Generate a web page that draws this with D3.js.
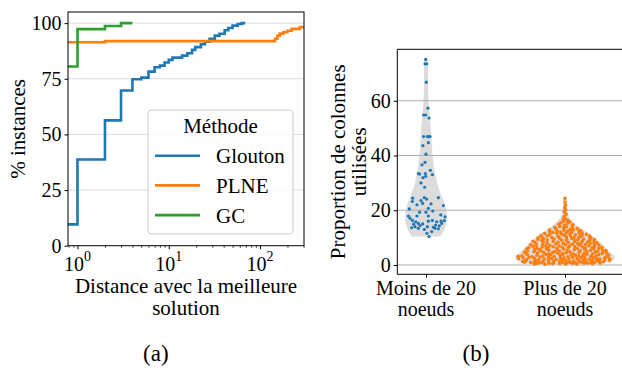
<!DOCTYPE html>
<html>
<head>
<meta charset="utf-8">
<script src="https://cdn.jsdelivr.net/npm/d3@7"></script>
<style>
  body { margin: 0; background: #fff; }
  svg { display: block; }
  svg text { font-family: "Liberation Serif", "Times New Roman", serif; }
</style>
</head>
<body>
<svg id="chart" width="622" height="370"></svg>
<script>
// (a) cumulative % of instances vs distance to best solution
const methods = ['Glouton', 'PLNE', 'GC'];
const methodColors = ['#1f77b4', '#ff7f0e', '#2ca02c'];
const gloutonSteps = [[0.5, 9.6], [1, 38.7], [2, 56.3], [3, 69.7], [4, 74.8], [5, 75.5], [6, 78.2], [7, 80.2], [8, 80.9],
  [9, 82.3], [10, 83.5], [11, 84.5], [14, 85.4], [16, 86.5], [18, 88.0], [19.5, 89.2], [22.5, 90.5], [25, 91.7],
  [28, 93.0], [32, 94.4], [36, 95.2], [41, 96.8], [45, 97.8], [50, 98.9], [57, 99.6], [63, 100], [69, 100]];
const plneSteps = [[0.5, 91.4], [2, 91.9], [146, 93.0], [155, 94.3], [165, 95.3], [180, 95.9], [200, 96.6],
  [222, 97.4], [272, 98.2], [400, 98.2]];
const gcSteps = [[0.5, 80.5], [1, 97.3], [2, 98.7], [3, 100], [4, 100]];
const ecdfYTicks = [0, 25, 50, 75, 100];
const ecdfXTicks = [1, 10, 100];

// (b) proportion of columns used
const groupLabels = [['Moins de 20', 'noeuds'], ['Plus de 20', 'noeuds']];
const groupColors = ['#1f77b4', '#ff7f0e'];
const violinYTicks = [0, 20, 40, 60];
// [value, jitter in category units]
const smallPoints = [[75.1, -0.002], [73.5, -0.007], [73.5, 0.005], [66.8, 0.002], [57.3, 0.014], [54.8, -0.017],
  [54.8, -0.002], [53.7, 0.022], [46.9, -0.017], [46.9, 0.010], [46.9, 0.019], [46.9, 0.029], [44.7, 0.017],
  [43.6, -0.022], [40.5, 0], [37.5, -0.007], [36.6, -0.029], [34.6, 0.031], [33.4, -0.055], [33.2, -0.046],
  [33.4, -0.005], [32.4, -0.002], [31.9, -0.022], [33.0, 0.046], [30.0, -0.036], [28.4, -0.010],
  [24.4, -0.096], [23.2, -0.098], [23.5, -0.036], [24.6, -0.012], [24.1, 0.005], [24.6, 0.089], [22.0, -0.065],
  [22.5, -0.024], [22.3, 0.036], [21.7, 0.125], [20.5, -0.120], [20.7, 0.017], [19.7, 0.048], [19.3, -0.046],
  [19.3, 0], [17.9, -0.127], [17.1, -0.115], [17.9, -0.065], [17.9, 0.017], [18.3, 0.106], [17.6, 0.137],
  [16.3, 0.046], [16.3, -0.098], [15.8, -0.074], [15.2, -0.055], [16.0, 0.017], [16.2, 0.132], [15.0, -0.024],
  [14.6, 0.070], [15.2, 0.113], [13.6, -0.103], [14.0, -0.079], [14.0, 0.010], [13.8, 0.053], [14.3, 0.096],
  [13.4, -0.055], [13.0, -0.012], [13.4, 0.065], [13.2, 0.089], [14.4, -0.043], [12.2, 0.041], [11.6, 0.007],
  [10.4, 0.022], [16.0, 0.108], [15.8, 0.077], [14.9, -0.089]];
// [value, jitter as a fraction of the violin half-width]
const largePoints = [
  [0.3, -0.62], [0.4, 0.35], [0.4, -0.91], [0.5, 0.78], [0.5, -0.15], [0.6, 0.52], [0.6, -0.44], [0.7, 0.05],
  [0.7, 0.93], [0.7, -0.73], [0.8, 0.27], [0.8, -0.29], [0.8, 0.66], [0.9, -0.85], [0.9, 0.14], [0.9, -0.05],
  [0.9, 0.86], [1.0, -0.55], [1.0, 0.41], [1.0, -0.97], [0.6, 0.21], [0.5, -0.35], [0.8, -0.66], [0.7, 0.59],
  [0.4, 0.02], [0.9, 0.47], [0.6, -0.80], [1.0, 0.72],
  [1.1, 0.11], [1.1, -0.38], [1.2, 0.88], [1.2, -0.70], [1.2, 0.33], [1.3, -0.12], [1.3, 0.61], [1.4, -0.89],
  [1.4, 0.19], [1.4, -0.48], [1.5, 0.75], [1.5, -0.24], [1.5, 0.44], [1.6, -0.63], [1.6, 0.02], [1.6, 0.95],
  [1.7, -0.82], [1.7, 0.29], [1.8, -0.35], [1.8, 0.56], [1.8, -0.06], [1.9, 0.82], [1.9, -0.54], [1.9, 0.38],
  [1.3, -0.95], [1.7, 0.68],
  [2.0, -0.18], [2.0, 0.49], [2.1, -0.77], [2.1, 0.91], [2.2, 0.08], [2.2, -0.42], [2.3, 0.63], [2.3, -0.93],
  [2.4, 0.24], [2.4, -0.27], [2.5, 0.79], [2.5, -0.61], [2.6, -0.02], [2.6, 0.40], [2.7, -0.84], [2.7, 0.57],
  [2.8, -0.33], [2.8, 0.15], [2.9, 0.87], [2.9, -0.50], [2.2, 0.70], [2.5, -0.09], [2.7, 0.32], [2.9, -0.72],
  [3.0, 0.06], [3.0, -0.66], [3.1, 0.52], [3.1, -0.22], [3.2, 0.84], [3.3, -0.45], [3.3, 0.28], [3.4, -0.88],
  [3.4, 0.64], [3.5, -0.10], [3.5, 0.37], [3.6, -0.58], [3.6, 0.90], [3.7, -0.30], [3.7, 0.13], [3.8, 0.71],
  [3.8, -0.79], [3.9, -0.04], [3.9, 0.46], [3.2, -0.95], [3.6, 0.22], [3.8, -0.40],
  [4.0, 0.58], [4.0, -0.35], [4.1, 0.17], [4.1, -0.83], [4.2, 0.80], [4.3, -0.16], [4.3, 0.42], [4.4, -0.60],
  [4.5, 0.03], [4.5, 0.91], [4.6, -0.47], [4.6, 0.31], [4.7, -0.90], [4.7, 0.67], [4.8, -0.24], [4.8, 0.11],
  [4.9, 0.50], [4.9, -0.70], [4.2, -0.05], [4.5, -0.28], [4.8, 0.85],
  [5.0, -0.12], [5.0, 0.74], [5.1, -0.55], [5.2, 0.35], [5.2, -0.86], [5.3, 0.05], [5.4, 0.60], [5.4, -0.38],
  [5.5, 0.88], [5.5, -0.18], [5.6, 0.22], [5.7, -0.72], [5.7, 0.47], [5.8, -0.03], [5.8, -0.92], [5.9, 0.70],
  [5.9, -0.45], [5.3, 0.95], [5.6, -0.60],
  [6.0, 0.30], [6.0, -0.68], [6.1, 0.83], [6.1, -0.20], [6.2, 0.50], [6.3, -0.90], [6.3, 0.08], [6.4, -0.42],
  [6.4, 0.68], [6.5, -0.07], [6.5, 0.93], [6.6, -0.58], [6.7, 0.25], [6.7, -0.30], [6.8, 0.76], [6.8, -0.82],
  [6.9, 0.12], [6.9, -0.50], [6.6, 0.44],
  [7.0, -0.15], [7.0, 0.62], [7.1, -0.75], [7.2, 0.38], [7.2, -0.40], [7.3, 0.90], [7.4, -0.92], [7.4, 0.02],
  [7.5, 0.55], [7.5, -0.60], [7.6, 0.20], [7.7, -0.25], [7.7, 0.80], [7.8, -0.80], [7.8, 0.35], [7.9, -0.05],
  [7.9, 0.70],
  [8.0, -0.50], [8.0, 0.45], [8.1, 0.90], [8.2, -0.85], [8.2, 0.10], [8.3, -0.20], [8.4, 0.65], [8.4, -0.62],
  [8.5, 0.28], [8.6, -0.35], [8.6, 0.85], [8.7, -0.95], [8.8, 0.05], [8.8, 0.52], [8.9, -0.70], [8.9, 0.30],
  [9.0, -0.10], [9.0, 0.75], [9.1, -0.55], [9.2, 0.40], [9.3, -0.85], [9.3, 0.92], [9.4, 0.05], [9.5, -0.35],
  [9.5, 0.60], [9.6, -0.70], [9.7, 0.22], [9.8, -0.18], [9.8, 0.85], [9.9, -0.90], [9.9, 0.45],
  [10.0, -0.45], [10.0, 0.30], [10.1, 0.85], [10.2, -0.80], [10.3, 0.05], [10.4, 0.55], [10.5, -0.25],
  [10.6, -0.65], [10.6, 0.90], [10.7, 0.20], [10.8, -0.90], [10.9, 0.65], [10.9, -0.05],
  [11.0, 0.40], [11.1, -0.60], [11.2, 0.85], [11.3, -0.15], [11.4, 0.20], [11.5, -0.85], [11.5, 0.60],
  [11.6, -0.35], [11.7, 0.05], [11.8, 0.75], [11.9, -0.55], [11.9, 0.30],
  [12.0, -0.20], [12.1, 0.65], [12.3, -0.75], [12.4, 0.15], [12.5, -0.40], [12.6, 0.80], [12.7, -0.05],
  [12.8, 0.45], [12.9, -0.85],
  [13.0, 0.30], [13.2, -0.55], [13.3, 0.75], [13.5, -0.10], [13.6, 0.50], [13.8, -0.70], [13.9, 0.10],
  [14.1, -0.40], [14.3, 0.55], [14.5, -0.05], [14.7, 0.70], [14.9, -0.60],
  [15.2, 0.25], [15.4, -0.45], [15.7, 0.60], [15.9, -0.15],
  [16.2, 0.40], [16.6, -0.30], [16.9, 0.10],
  [17.7, -0.20], [18.5, 0.30], [19.4, -0.25], [20.2, 0.20], [21.0, -0.10], [21.9, 0.25], [23.0, 0.00], [24.4, -0.05]];

const svg = d3.select('#chart');
const serifFont = '"Liberation Serif", "Times New Roman", serif';
const tickFont = 20;
const labelFont = 21;

function styleAxis(g) {
  g.attr('font-family', serifFont).attr('font-size', tickFont);
  g.select('.domain').remove();
  g.selectAll('line').attr('stroke', '#000');
  g.selectAll('text')
    .attr('font-family', serifFont)
    .attr('font-size', tickFont)
    .attr('fill', '#000');
}

// ---------- (a) ----------
const a = { left: 68, right: 304, top: 12, bottom: 245.7 };
const xA = d3.scaleLog().domain([0.787, 303.5]).range([a.left, a.right]);
const yA = d3.scaleLinear().domain([0, 105]).range([a.bottom, a.top]);

svg.append('clipPath').attr('id', 'clipA')
  .append('rect')
  .attr('x', a.left).attr('y', a.top)
  .attr('width', a.right - a.left).attr('height', a.bottom - a.top);

svg.append('g')
  .selectAll('line')
  .data(ecdfYTicks.filter(d => d > 0))
  .enter().append('line')
  .attr('x1', a.left).attr('x2', a.right)
  .attr('y1', d => yA(d)).attr('y2', d => yA(d))
  .attr('stroke', '#dcdcdc').attr('stroke-width', 1);

const stepLine = d3.line()
  .x(d => xA(d[0]))
  .y(d => yA(d[1]))
  .curve(d3.curveStepAfter);

const series = [gloutonSteps, plneSteps, gcSteps];
svg.append('g').attr('clip-path', 'url(#clipA)')
  .selectAll('path')
  .data(series)
  .enter().append('path')
  .attr('d', d => stepLine(d))
  .attr('fill', 'none')
  .attr('stroke', (d, i) => methodColors[i])
  .attr('stroke-width', 2.6);

svg.append('g')
  .attr('transform', `translate(${a.left},0)`)
  .call(d3.axisLeft(yA).tickValues(ecdfYTicks).tickSize(3.5).tickPadding(3))
  .call(styleAxis);

const minorTicks = [];
[0.1, 1, 10, 100].forEach(base => {
  for (let k = 2; k <= 9; k++) {
    const v = base * k;
    if (v >= xA.domain()[0] && v <= xA.domain()[1]) minorTicks.push(v);
  }
});

svg.append('g')
  .attr('transform', `translate(0,${a.bottom})`)
  .call(d3.axisBottom(xA).tickValues(ecdfXTicks).tickSize(3.5).tickFormat(''))
  .call(styleAxis);

svg.append('g')
  .attr('transform', `translate(0,${a.bottom})`)
  .call(d3.axisBottom(xA).tickValues(minorTicks).tickSize(2).tickFormat(''))
  .call(styleAxis)
  .selectAll('line').attr('stroke-width', 0.8);

const xLabelsA = svg.append('g')
  .selectAll('text')
  .data(ecdfXTicks)
  .enter().append('text')
  .attr('x', d => xA(d))
  .attr('y', 270.7)
  .attr('text-anchor', 'middle')
  .attr('font-size', tickFont);
xLabelsA.append('tspan').text('10');
xLabelsA.append('tspan')
  .attr('font-size', 14)
  .attr('dy', -10)
  .text(d => Math.round(Math.log10(d)));

svg.append('rect')
  .attr('x', a.left).attr('y', a.top)
  .attr('width', a.right - a.left).attr('height', a.bottom - a.top)
  .attr('fill', 'none').attr('stroke', '#000').attr('stroke-width', 1);

svg.append('text')
  .attr('transform', `translate(25,${(a.top + a.bottom) / 2}) rotate(-90)`)
  .attr('text-anchor', 'middle')
  .attr('font-size', labelFont)
  .text('% instances');

svg.append('text')
  .attr('x', (a.left + a.right) / 2).attr('y', 293.3)
  .attr('text-anchor', 'middle').attr('font-size', labelFont)
  .text('Distance avec la meilleure');
svg.append('text')
  .attr('x', (a.left + a.right) / 2).attr('y', 315)
  .attr('text-anchor', 'middle').attr('font-size', labelFont)
  .text('solution');

// legend
const legend = svg.append('g');
legend.append('rect')
  .attr('x', 148).attr('y', 110).attr('width', 145).attr('height', 124).attr('rx', 4)
  .attr('fill', '#fff').attr('fill-opacity', 0.8)
  .attr('stroke', '#cccccc').attr('stroke-width', 1);
legend.append('text')
  .attr('x', 220.5).attr('y', 133.3)
  .attr('text-anchor', 'middle').attr('font-size', labelFont)
  .text('Méthode');
methods.forEach((m, i) => {
  const ly = 155.7 + i * 29.7;
  legend.append('line')
    .attr('x1', 155).attr('x2', 200).attr('y1', ly).attr('y2', ly)
    .attr('stroke', methodColors[i]).attr('stroke-width', 2.6);
  legend.append('text')
    .attr('x', 216).attr('y', ly + 7.5)
    .attr('font-size', labelFont)
    .text(m);
});

svg.append('text')
  .attr('x', 155.8).attr('y', 361)
  .attr('text-anchor', 'middle').attr('font-size', 23)
  .text('(a)');

// ---------- (b) ----------
const b = { left: 397.3, right: 622, top: 49.3, bottom: 274.3 };
const xB = d3.scaleLinear().domain([-0.2065, 1.41]).range([b.left, b.right]);
const yB = d3.scaleLinear().domain([-3.4, 78.8]).range([b.bottom, b.top]);

function kde(values) {
  const n = values.length;
  const bw = d3.deviation(values) * Math.pow(n, -0.2);
  const dens = g => d3.mean(values, v => Math.exp(-0.5 * ((g - v) / bw) ** 2)) / (bw * Math.sqrt(2 * Math.PI));
  const [lo, hi] = d3.extent(values);
  const grid = d3.range(101).map(i => lo + (hi - lo) * i / 100);
  const curve = grid.map(g => [g, dens(g)]);
  const peak = d3.max(curve, d => d[1]);
  return { curve, dens, peak };
}

const groups = [
  { pos: 0, pts: smallPoints, half: 0.151 },
  { pos: 1, pts: largePoints, half: 0.36 }
];
groups.forEach(g => { g.kde = kde(g.pts.map(p => p[0])); });

const violinArea = (g) => d3.area()
  .y(d => yB(d[0]))
  .x0(d => xB(g.pos - d[1] / g.kde.peak * g.half))
  .x1(d => xB(g.pos + d[1] / g.kde.peak * g.half));

svg.append('g')
  .selectAll('path')
  .data(groups)
  .enter().append('path')
  .attr('d', g => violinArea(g)(g.kde.curve))
  .attr('fill', '#dcdcdc');

svg.append('g')
  .selectAll('line')
  .data(violinYTicks)
  .enter().append('line')
  .attr('x1', b.left).attr('x2', b.right)
  .attr('y1', d => yB(d)).attr('y2', d => yB(d))
  .attr('stroke', '#b0b0b0').attr('stroke-width', 1.2);

svg.append('g')
  .selectAll('circle')
  .data(smallPoints)
  .enter().append('circle')
  .attr('cx', d => xB(0 + d[1]))
  .attr('cy', d => yB(d[0]))
  .attr('r', 1.6)
  .attr('fill', groupColors[0]);

const big = groups[1];
svg.append('g')
  .selectAll('circle')
  .data(largePoints)
  .enter().append('circle')
  .attr('cx', d => xB(1 + d[1] * big.kde.dens(d[0]) / big.kde.peak * big.half))
  .attr('cy', d => yB(d[0]))
  .attr('r', 1.8)
  .attr('fill', groupColors[1]);

svg.append('g')
  .attr('transform', `translate(${b.left},0)`)
  .call(d3.axisLeft(yB).tickValues(violinYTicks).tickSize(3.5).tickPadding(3))
  .call(styleAxis);

svg.append('g')
  .attr('transform', `translate(0,${b.bottom})`)
  .call(d3.axisBottom(xB).tickValues([0, 1]).tickSize(3.5).tickFormat(''))
  .call(styleAxis);

groupLabels.forEach((lines, i) => {
  lines.forEach((t, j) => {
    svg.append('text')
      .attr('x', xB(i)).attr('y', 295 + j * 21)
      .attr('text-anchor', 'middle').attr('font-size', tickFont)
      .text(t);
  });
});

svg.append('path')
  .attr('d', `M${b.right},${b.top}H${b.left}V${b.bottom}H${b.right}`)
  .attr('fill', 'none').attr('stroke', '#000').attr('stroke-width', 1);

const yLabB = svg.append('text')
  .attr('transform', `translate(345,${(b.top + b.bottom) / 2}) rotate(-90)`)
  .attr('text-anchor', 'middle')
  .attr('font-size', labelFont);
yLabB.append('tspan').attr('x', 0).attr('y', 0).text('Proportion de colonnes');
yLabB.append('tspan').attr('x', 0).attr('y', 21).text('utilisées');

svg.append('text')
  .attr('x', 476).attr('y', 361)
  .attr('text-anchor', 'middle').attr('font-size', 23)
  .text('(b)');
</script>
</body>
</html>
